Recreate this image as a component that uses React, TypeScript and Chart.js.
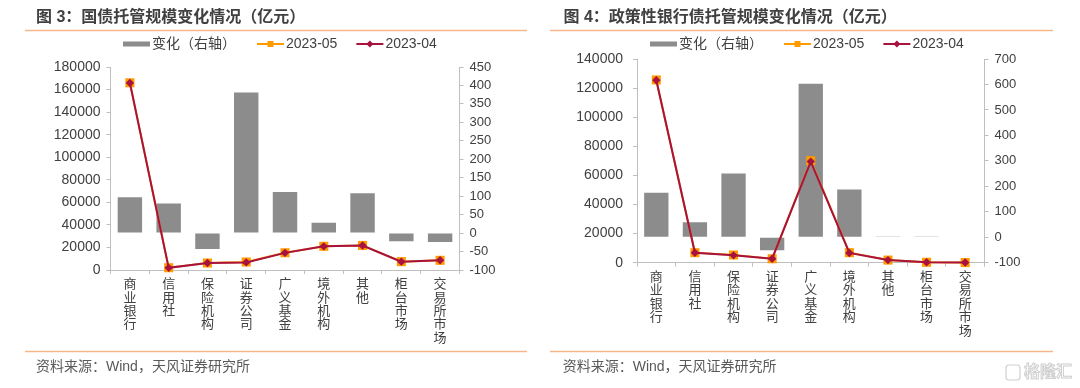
import React, { useEffect, useRef } from 'react';
import { Chart, registerables } from 'chart.js';

Chart.register(...registerables);

// ---------- data ----------
const categoryNames = ['商业银行', '信用社', '保险机构', '证券公司', '广义基金', '境外机构', '其他', '柜台市场', '交易所市场'];
const legendLabels = ['变化（右轴）', '2023-05', '2023-04'];
const sourceText = '资料来源：Wind，天风证券研究所';

const govTitle = '图 3：国债托管规模变化情况（亿元）';
const gov202305 = [166000, 2000, 6200, 7100, 15300, 21000, 21800, 7400, 8600];
const gov202304 = [165903, 1920, 6243, 6719, 15189, 20972, 21692, 7422, 8624];
const govChange = [97, 80, -43, 381, 111, 28, 108, -22, -24];

const polTitle = '图 4：政策性银行债托管规模变化情况（亿元）';
const pol202305 = [125600, 6900, 5300, 2700, 70100, 6900, 1800, 300, 100];
const pol202304 = [125425, 6841, 5050, 2751, 69497, 6713, 1799, 299, 100];
const polChange = [175, 59, 250, -51, 603, 187, 1, 1, 0];

// axis ranges
const govLeftAxis = [0, 180000, 20000];
const govRightAxis = [-100, 450, 50];
const polLeftAxis = [0, 140000, 20000];
const polRightAxis = [-100, 700, 100];

// ---------- styles ----------
const FAM = '"Liberation Sans", "Noto Sans CJK SC", sans-serif';
const TEXT = '#404040';
const AXIS = '#bfbfbf';
const BAR = '#8c8c8c';
const ORANGE = '#FF9A00';
const RED = '#A8123E';
const PEACH = '#F5B78A';

const decorPlugin = {
  id: 'decor',
  afterDraw(chart: any, _args: any, o: any) {
    const ctx = chart.ctx as CanvasRenderingContext2D;
    ctx.save();
    // title
    ctx.font = `bold 16px ${FAM}`;
    ctx.fillStyle = TEXT;
    ctx.textBaseline = 'middle';
    ctx.textAlign = 'left';
    ctx.fillText(o.title, o.titleX, 17.5);
    // separator lines
    ctx.strokeStyle = PEACH;
    ctx.lineWidth = 1.5;
    ctx.beginPath();
    ctx.moveTo(o.lineX0, 30.5);
    ctx.lineTo(o.lineX1, 30.5);
    ctx.moveTo(o.lineX0, 351.5);
    ctx.lineTo(o.lineX1, 351.5);
    ctx.stroke();
    // source
    ctx.font = `14px ${FAM}`;
    ctx.fillStyle = '#595959';
    ctx.fillText(sourceText, o.srcX, 367);
    // legend
    const ly = 44;
    let x = o.legendX;
    ctx.font = `14px ${FAM}`;
    ctx.fillStyle = BAR;
    ctx.fillRect(x, ly - 2.5, 27, 5);
    x += 29;
    ctx.fillStyle = TEXT;
    ctx.fillText(legendLabels[0], x, ly);
    x += ctx.measureText(legendLabels[0]).width + 21;
    // orange
    ctx.strokeStyle = ORANGE;
    ctx.lineWidth = 2;
    ctx.beginPath();
    ctx.moveTo(x, ly);
    ctx.lineTo(x + 27, ly);
    ctx.stroke();
    ctx.fillStyle = ORANGE;
    ctx.fillRect(x + 13.5 - 3, ly - 3, 6, 6);
    x += 29;
    ctx.fillStyle = TEXT;
    ctx.fillText(legendLabels[1], x, ly);
    x += ctx.measureText(legendLabels[1]).width + 19;
    // red
    ctx.strokeStyle = RED;
    ctx.beginPath();
    ctx.moveTo(x, ly);
    ctx.lineTo(x + 27, ly);
    ctx.stroke();
    ctx.fillStyle = RED;
    ctx.beginPath();
    const cx = x + 13.5;
    ctx.moveTo(cx, ly - 3.5);
    ctx.lineTo(cx + 3.5, ly);
    ctx.lineTo(cx, ly + 3.5);
    ctx.lineTo(cx - 3.5, ly);
    ctx.closePath();
    ctx.fill();
    x += 29;
    ctx.fillStyle = TEXT;
    ctx.fillText(legendLabels[2], x, ly);

    if (o.watermark) {
      ctx.strokeStyle = '#cfcfcf';
      ctx.lineWidth = 1.2;
      ctx.beginPath();
      ctx.roundRect(466, 365, 14, 15, 3);
      ctx.stroke();
      ctx.font = `bold 16px ${FAM}`;
      ctx.lineWidth = 1;
      ctx.strokeText('格隆汇', 484, 373);
    }
    ctx.restore();
  },
};

type PanelCfg = {
  title: string;
  v05: number[];
  v04: number[];
  change: number[];
  leftAxis: number[];
  rightAxis: number[];
  top: number;
  leftW: number;
  rightW: number;
  xH: number;
  leftPad: number;
  titleX: number;
  lineX0: number;
  lineX1: number;
  srcX: number;
  legendX: number;
  watermark: boolean;
};

function Panel({ cfg, left }: { cfg: PanelCfg; left: number }) {
  const ref = useRef<HTMLCanvasElement>(null);
  useEffect(() => {
    const labels = categoryNames.map((s) => s.split(''));
    const chart = new Chart(ref.current as HTMLCanvasElement, {
      type: 'bar',
      data: {
        labels,
        datasets: [
          {
            type: 'line',
            label: legendLabels[2],
            data: cfg.v04,
            yAxisID: 'y',
            borderColor: RED,
            backgroundColor: RED,
            borderWidth: 2,
            pointStyle: 'rectRot',
            pointRadius: 4.2,
            pointBackgroundColor: RED,
            pointBorderWidth: 0,
            tension: 0,
            clip: false,
            order: 1,
          },
          {
            type: 'line',
            label: legendLabels[1],
            data: cfg.v05,
            yAxisID: 'y',
            borderColor: ORANGE,
            backgroundColor: ORANGE,
            borderWidth: 2,
            pointStyle: 'rect',
            pointRadius: 6.4,
            pointBackgroundColor: ORANGE,
            pointBorderWidth: 0,
            tension: 0,
            clip: false,
            order: 2,
          },
          {
            type: 'bar',
            label: legendLabels[0],
            data: cfg.change,
            yAxisID: 'y1',
            backgroundColor: BAR,
            borderWidth: 0,
            barPercentage: 0.63,
            categoryPercentage: 1,
            order: 3,
          },
        ] as any,
      },
      options: {
        responsive: false,
        animation: false,
        devicePixelRatio: 1,
        layout: { padding: { top: cfg.top, left: 0, right: 0, bottom: 0 } },
        plugins: {
          legend: { display: false },
          tooltip: { enabled: false },
          decor: {
            title: cfg.title,
            titleX: cfg.titleX,
            lineX0: cfg.lineX0,
            lineX1: cfg.lineX1,
            srcX: cfg.srcX,
            legendX: cfg.legendX,
            watermark: cfg.watermark,
          },
        } as any,
        scales: {
          x: {
            offset: true,
            grid: { display: true, drawOnChartArea: false, drawTicks: true, tickLength: 4, color: AXIS, offset: true },
            border: { display: true, color: AXIS },
            ticks: {
              autoSkip: false,
              maxRotation: 0,
              minRotation: 0,
              padding: 4,
              color: TEXT,
              font: { family: FAM, size: 13, lineHeight: 1.03 },
            },
            afterFit: (s: any) => {
              s.height = cfg.xH;
            },
          },
          y: {
            position: 'left',
            min: cfg.leftAxis[0],
            max: cfg.leftAxis[1],
            grid: { display: true, drawOnChartArea: false, drawTicks: true, tickLength: 4, color: AXIS },
            border: { display: true, color: AXIS },
            ticks: {
              autoSkip: false,
              stepSize: cfg.leftAxis[2],
              padding: cfg.leftPad,
              color: TEXT,
              font: { family: FAM, size: 14 },
              callback: (v: any) => String(v),
            },
            afterFit: (s: any) => {
              s.width = cfg.leftW;
            },
          },
          y1: {
            position: 'right',
            min: cfg.rightAxis[0],
            max: cfg.rightAxis[1],
            grid: { display: true, drawOnChartArea: false, drawTicks: true, tickLength: 4, color: AXIS },
            border: { display: true, color: AXIS },
            ticks: {
              autoSkip: false,
              stepSize: cfg.rightAxis[2],
              padding: 6,
              color: TEXT,
              font: { family: FAM, size: 13 },
              callback: (v: any) => String(v),
            },
            afterFit: (s: any) => {
              s.width = cfg.rightW;
            },
          },
        },
      } as any,
      plugins: [decorPlugin],
    });
    return () => chart.destroy();
  }, []);
  return (
    <div style={{ position: 'absolute', left, top: 0, width: 540, height: 388 }}>
      <canvas ref={ref} width={540} height={388} style={{ display: 'block', width: 540, height: 388 }} />
    </div>
  );
}

const govCfg: PanelCfg = {
  title: govTitle,
  v05: gov202305,
  v04: gov202304,
  change: govChange,
  leftAxis: govLeftAxis,
  rightAxis: govRightAxis,
  top: 67,
  leftW: 110.5,
  rightW: 80.5,
  xH: 118,
  leftPad: 6,
  titleX: 36,
  lineX0: 25,
  lineX1: 527,
  srcX: 36,
  legendX: 123,
  watermark: false,
};

const polCfg: PanelCfg = {
  title: polTitle,
  v05: pol202305,
  v04: pol202304,
  change: polChange,
  leftAxis: polLeftAxis,
  rightAxis: polRightAxis,
  top: 59,
  leftW: 97,
  rightW: 95.5,
  xH: 125.3,
  leftPad: 10,
  titleX: 23.5,
  lineX0: 10,
  lineX1: 513,
  srcX: 22.7,
  legendX: 110,
  watermark: true,
};

export default function App() {
  return (
    <div style={{ position: 'absolute', left: 0, top: 0, width: 1080, height: 388, background: '#fff', overflow: 'hidden' }}>
      <Panel cfg={govCfg} left={0} />
      <Panel cfg={polCfg} left={540} />
    </div>
  );
}
